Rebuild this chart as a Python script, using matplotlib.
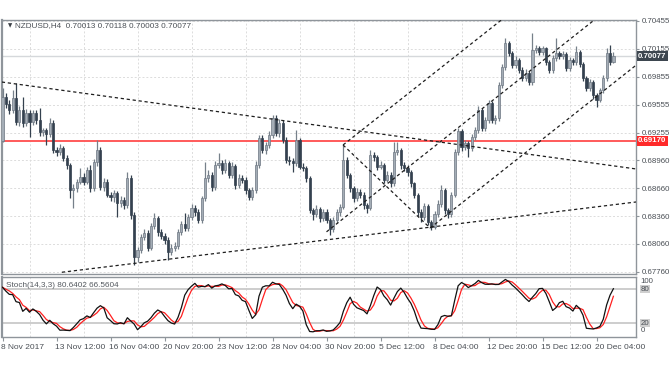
import matplotlib
matplotlib.use("Agg")
import matplotlib.pyplot as plt
import numpy as np
import pandas as pd

plt.rcParams['font.family'] = ['Liberation Sans', 'DejaVu Sans']

# ---------------- data (NZDUSD H4) ----------------
first_open = 0.6917
closes = [
    0.6964, 0.6956, 0.6950, 0.6963, 0.6937, 0.6950, 0.6936, 0.6947, 0.6937, 0.6947,
    0.6939, 0.6926, 0.6928, 0.6924, 0.6936, 0.6907, 0.6905, 0.6909, 0.6898, 0.6891,
    0.6864, 0.6866, 0.6873, 0.6878, 0.6873, 0.6885, 0.6866, 0.6894, 0.6907, 0.6867,
    0.6873, 0.6859, 0.6856, 0.6861, 0.6850, 0.6853, 0.6848, 0.6877, 0.6837, 0.6792,
    0.6799, 0.6813, 0.6818, 0.6802, 0.6825, 0.6834, 0.6819, 0.6815, 0.6810, 0.6797,
    0.6802, 0.6804, 0.6819, 0.6827, 0.6823, 0.6835, 0.6845, 0.6840, 0.6832, 0.6855,
    0.6877, 0.6880, 0.6867, 0.6891, 0.6893, 0.6885, 0.6893, 0.6880, 0.6890, 0.6869,
    0.6877, 0.6875, 0.6864, 0.6856, 0.6864, 0.6891, 0.6920, 0.6907, 0.6912, 0.6923,
    0.6941, 0.6925, 0.6936, 0.6918, 0.6896, 0.6895, 0.6893, 0.6918, 0.6889, 0.6888,
    0.6877, 0.6842, 0.6838, 0.6844, 0.6834, 0.6840, 0.6832, 0.6822, 0.6832, 0.6840,
    0.6846, 0.6896, 0.6880, 0.6866, 0.6855, 0.6862, 0.6859, 0.6848, 0.6845, 0.6901,
    0.6899, 0.6889, 0.6891, 0.6875, 0.6880, 0.6871, 0.6905, 0.6907, 0.6891, 0.6888,
    0.6883, 0.6871, 0.6859, 0.6840, 0.6835, 0.6847, 0.6830, 0.6824, 0.6838, 0.6849,
    0.6864, 0.6842, 0.6838, 0.6859, 0.6905, 0.6927, 0.6910, 0.6914, 0.6909, 0.6921,
    0.6928, 0.6950, 0.6930, 0.6939, 0.6957, 0.6939, 0.6941, 0.6977, 0.6996, 0.7022,
    0.7011, 0.6998, 0.7004, 0.6993, 0.6984, 0.6990, 0.6980, 0.7014, 0.7016, 0.7012,
    0.7016, 0.7001, 0.6993, 0.7006, 0.7011, 0.7008, 0.7010, 0.6995, 0.7004, 0.7001,
    0.7012, 0.6999, 0.6984, 0.6973, 0.6980, 0.6966, 0.6961, 0.6971, 0.6984, 0.7011,
    0.70013, 0.70077]
highs = [
    0.6974, 0.6968, 0.6961, 0.6971, 0.6979, 0.6954, 0.6964, 0.6951, 0.6950, 0.6950,
    0.6950, 0.6952, 0.6931, 0.6930, 0.6941, 0.6939, 0.6910, 0.6913, 0.6911, 0.6901,
    0.6893, 0.6870, 0.6876, 0.6888, 0.6882, 0.6889, 0.6891, 0.6897, 0.6918, 0.6910,
    0.6877, 0.6876, 0.6862, 0.6864, 0.6863, 0.6857, 0.6856, 0.6883, 0.6880, 0.6840,
    0.6803, 0.6817, 0.6822, 0.6821, 0.6829, 0.6839, 0.6836, 0.6822, 0.6818, 0.6813,
    0.6806, 0.6808, 0.6822, 0.6831, 0.6839, 0.6838, 0.6849, 0.6848, 0.6843, 0.6858,
    0.6894, 0.6885, 0.6883, 0.6895, 0.6904, 0.6896, 0.6897, 0.6895, 0.6894, 0.6892,
    0.6881, 0.6880, 0.6878, 0.6866, 0.6867, 0.6895, 0.6923, 0.6923, 0.6916, 0.6927,
    0.6945, 0.6945, 0.6940, 0.6939, 0.6921, 0.6900, 0.6898, 0.6928, 0.6920, 0.6893,
    0.6890, 0.6879, 0.6845, 0.6848, 0.6846, 0.6843, 0.6843, 0.6834, 0.6835, 0.6843,
    0.6849, 0.6912, 0.6899, 0.6882, 0.6868, 0.6866, 0.6865, 0.6862, 0.6850, 0.6907,
    0.6905, 0.6902, 0.6895, 0.6893, 0.6884, 0.6883, 0.6915, 0.6915, 0.6909, 0.6894,
    0.6891, 0.6885, 0.6873, 0.6861, 0.6843, 0.6850, 0.6849, 0.6832, 0.6841, 0.6853,
    0.6869, 0.6866, 0.6845, 0.6862, 0.6908, 0.6930, 0.6929, 0.6918, 0.6917, 0.6924,
    0.6932, 0.6954, 0.6952, 0.6942, 0.6961, 0.6959, 0.6945, 0.6980, 0.6999, 0.7027,
    0.7024, 0.7013, 0.7008, 0.7006, 0.6996, 0.6994, 0.6992, 0.7033, 0.7020, 0.7019,
    0.7019, 0.7018, 0.7004, 0.7009, 0.7027, 0.7013, 0.7013, 0.7012, 0.7007, 0.7006,
    0.7019, 0.7014, 0.7001, 0.6986, 0.6983, 0.6982, 0.6968, 0.6974, 0.6987, 0.7016,
    0.7020, 0.70118]
lows = [
    0.6915, 0.6952, 0.6946, 0.6947, 0.6934, 0.6933, 0.6932, 0.6933, 0.6921, 0.6934,
    0.6935, 0.6922, 0.6922, 0.6912, 0.6921, 0.6904, 0.6900, 0.6901, 0.6895, 0.6887,
    0.6855, 0.6845, 0.6862, 0.6870, 0.6869, 0.6870, 0.6862, 0.6863, 0.6890, 0.6864,
    0.6863, 0.6856, 0.6852, 0.6851, 0.6835, 0.6846, 0.6844, 0.6845, 0.6833, 0.6783,
    0.6787, 0.6796, 0.6810, 0.6798, 0.6800, 0.6822, 0.6815, 0.6811, 0.6806, 0.6789,
    0.6794, 0.6798, 0.6801, 0.6816, 0.6820, 0.6820, 0.6832, 0.6836, 0.6828, 0.6829,
    0.6852, 0.6873, 0.6863, 0.6864, 0.6888, 0.6881, 0.6882, 0.6877, 0.6877, 0.6865,
    0.6866, 0.6871, 0.6860, 0.6853, 0.6853, 0.6861, 0.6888, 0.6904, 0.6903, 0.6909,
    0.6920, 0.6922, 0.6921, 0.6914, 0.6893, 0.6891, 0.6883, 0.6890, 0.6886, 0.6884,
    0.6873, 0.6839, 0.6832, 0.6835, 0.6830, 0.6831, 0.6828, 0.6816, 0.6819, 0.6829,
    0.6836, 0.6843, 0.6877, 0.6862, 0.6851, 0.6852, 0.6855, 0.6844, 0.6839, 0.6842,
    0.6895, 0.6885, 0.6886, 0.6871, 0.6872, 0.6867, 0.6868, 0.6901, 0.6887, 0.6884,
    0.6879, 0.6867, 0.6855, 0.6836, 0.6830, 0.6832, 0.6826, 0.6821, 0.6822, 0.6835,
    0.6846, 0.6838, 0.6834, 0.6835, 0.6856, 0.6902, 0.6906, 0.6907, 0.6899, 0.6906,
    0.6918, 0.6925, 0.6927, 0.6927, 0.6936, 0.6936, 0.6935, 0.6938, 0.6974, 0.6993,
    0.7008, 0.6995, 0.6995, 0.6990, 0.6981, 0.6981, 0.6977, 0.6977, 0.7011, 0.7009,
    0.7009, 0.6998, 0.6990, 0.6990, 0.7003, 0.7005, 0.7005, 0.6992, 0.6992, 0.6998,
    0.6998, 0.6996, 0.6981, 0.6970, 0.6970, 0.6962, 0.6953, 0.6958, 0.6968, 0.6981,
    0.6998, 0.70003]

price_ticks = [0.70455, 0.70155, 0.69855, 0.69555, 0.69255, 0.68960, 0.68660, 0.68360, 0.68060, 0.67760]
price_labels = ["0.70455", "0.70155", "0.69855", "0.69555", "0.69255", "0.68960", "0.68660", "0.68360", "0.68060", "0.67760"]
date_bars = [0, 16, 32, 48, 64, 80, 96, 112, 128, 144, 160, 176]
date_labels = ["8 Nov 2017", "13 Nov 12:00", "16 Nov 04:00", "20 Nov 20:00", "23 Nov 12:00",
               "28 Nov 04:00", "30 Nov 20:00", "5 Dec 12:00", "8 Dec 04:00", "12 Dec 20:00",
               "15 Dec 12:00", "20 Dec 04:00"]
resistance = 0.69170
last_price = 0.70077
header = "NZDUSD,H4  0.70013 0.70118 0.70003 0.70077"
stoch_title = "Stoch(14,3,3) 80.6402 66.5604"
stoch_levels = [80, 20]

# trendlines: (bar0, price0, bar1, price1)
trendlines = [
    (-0.2, 0.69799, 187.8, 0.68865),   # long falling line
    (17.6, 0.67756, 187.8, 0.68511),   # long rising support
    (100.9, 0.69123, 148.5, 0.70485),  # channel top
    (96.0, 0.68190, 175.5, 0.70470),   # channel middle
    (126.7, 0.68231, 187.8, 0.69982),  # channel bottom
    (100.9, 0.69123, 126.7, 0.68231),  # diagonal
]

# ---------------- figure ----------------
W, H = 672, 372
fig = plt.figure(figsize=(W / 100, H / 100), dpi=100)
fig.patch.set_facecolor('white')

def fx(px):
    return px / W

def fy(py):
    return 1 - py / H

ax = fig.add_axes([fx(2), fy(274), (636 - 2) / W, (274 - 20) / H])
ax2 = fig.add_axes([fx(2), fy(337), (636 - 2) / W, (337 - 277) / H])

n = len(closes)
x = np.arange(n)
c = np.array(closes)
h = np.array(highs)
l = np.array(lows)
o = np.r_[first_open, c[:-1]]
up = c >= o

XLIM = (-0.15, 187.7)
grid_col = '#dcdcdc'
spine_col = '#8f959b'
text_col = '#4a4f55'
FS = 5.7

# grid
for gx in date_bars:
    ax.axvline(gx - 8, color=grid_col, lw=0.7, ls=(0, (2, 2)), zorder=0)
    ax2.axvline(gx - 8, color=grid_col, lw=0.7, ls=(0, (2, 2)), zorder=0)
for gy in price_ticks:
    ax.axhline(gy, color=grid_col, lw=0.7, ls=(0, (2, 2)), zorder=0)

# current price line and resistance
ax.axhline(last_price, color='#d5d8db', lw=1.0, zorder=1)
ax.axhline(resistance, color='#ff5a5a', lw=1.4, zorder=2)

# candles
bull_fill, bull_edge = '#a4adb6', '#6e7883'
bear_fill = '#34414f'
wick_cols = np.where(up, '#76808a', bear_fill)
ax.vlines(x, l, h, colors=wick_cols, lw=0.9, zorder=3)
body_bottom = np.minimum(o, c)
body_h = np.maximum(np.abs(c - o), 0.00004)
ax.bar(x[up], body_h[up], bottom=body_bottom[up], width=0.66,
       color=bull_fill, edgecolor=bull_edge, linewidth=0.5, zorder=4)
ax.bar(x[~up], body_h[~up], bottom=body_bottom[~up], width=0.66,
       color=bear_fill, edgecolor=bear_fill, linewidth=0.5, zorder=4)

# trendlines
for (b0, p0, b1, p1) in trendlines:
    ax.plot([b0, b1], [p0, p1], color='#1e1e1e', lw=0.9, ls=(0, (2.6, 2.2)), zorder=5)

ax.set_xlim(*XLIM)
ax.set_ylim(0.677372, 0.704652)
ax.yaxis.tick_right()
ax.set_yticks(price_ticks)
ax.set_yticklabels(price_labels)
ax.tick_params(axis='y', direction='out', length=2.5, width=0.8, color=spine_col,
               labelsize=FS, labelcolor=text_col, pad=1.5)
ax.set_xticks([])
for s in ax.spines.values():
    s.set_color(spine_col)
    s.set_linewidth(1.0)
ax.spines['left'].set_linewidth(1.6)

# right side price boxes
ytr_main = ax.get_yaxis_transform()
ax.text(1.0035, last_price, "0.70077", transform=ytr_main, ha='left', va='center',
        fontsize=FS, color='white', fontweight='bold',
        bbox=dict(boxstyle='square,pad=0.2', fc='#3d464f', ec='none'), zorder=10, clip_on=False)
ax.text(1.0035, resistance, "0.69170", transform=ytr_main, ha='left', va='center',
        fontsize=FS, color='white', fontweight='bold',
        bbox=dict(boxstyle='square,pad=0.2', fc='#ff2a2a', ec='none'), zorder=10, clip_on=False)

# header
fig.text(fx(8), fy(26), "\u25BC", fontsize=4, color='#3a3f45', va='center', ha='left',
         family='DejaVu Sans')
fig.text(fx(15), fy(26), header, fontsize=5.9, color=text_col, va='center', ha='left')

# ---------------- stochastic ----------------
cs = pd.Series(c)
hh = pd.Series(h).rolling(14, min_periods=1).max()
ll = pd.Series(l).rolling(14, min_periods=1).min()
num = (cs - ll).rolling(3, min_periods=1).sum()
den = (hh - ll).rolling(3, min_periods=1).sum()
k = 100 * num / den
d = k.rolling(3, min_periods=1).mean()

for lev in stoch_levels:
    ax2.axhline(lev, color='#c9c9c9', lw=1.3, zorder=1)
ax2.plot(x, d, color='#ff2020', lw=0.9, zorder=3)
ax2.plot(x, k, color='#111111', lw=0.9, zorder=4)
ax2.set_xlim(*XLIM)
ax2.set_ylim(-4.7, 101.2)
ax2.set_yticks([])
ax2.set_xticks(date_bars)
ax2.set_xticklabels([])
ax2.tick_params(axis='x', direction='out', length=3, width=0.8, color=spine_col)
for s in ax2.spines.values():
    s.set_color(spine_col)
    s.set_linewidth(1.0)
ax2.spines['left'].set_linewidth(1.6)

ytr = ax2.get_yaxis_transform()
ax2.text(1.007, 92.5, "100", transform=ytr, fontsize=FS, color=text_col, ha='left', va='center', clip_on=False)
ax2.text(1.007, 80, "80", transform=ytr, fontsize=FS, color=text_col, ha='left', va='center', clip_on=False,
         bbox=dict(boxstyle='square,pad=0.1', fc='#cfcfcf', ec='none'))
ax2.text(1.007, 20, "20", transform=ytr, fontsize=FS, color=text_col, ha='left', va='center', clip_on=False,
         bbox=dict(boxstyle='square,pad=0.1', fc='#cfcfcf', ec='none'))
ax2.text(1.007, 6, "0", transform=ytr, fontsize=FS, color=text_col, ha='left', va='center', clip_on=False)
ax2.text(0.006, 0.86, stoch_title, transform=ax2.transAxes, fontsize=5.9, color='#555a60', ha='left', va='center')

# date labels
xtr = ax2.get_xaxis_transform()
for b, lab in zip(date_bars, date_labels):
    ax2.text(b - 0.4, -0.18, lab, transform=xtr, fontsize=6.0, color=text_col, ha='left', va='center',
             clip_on=False)

fig.savefig("out.png", dpi=100)
